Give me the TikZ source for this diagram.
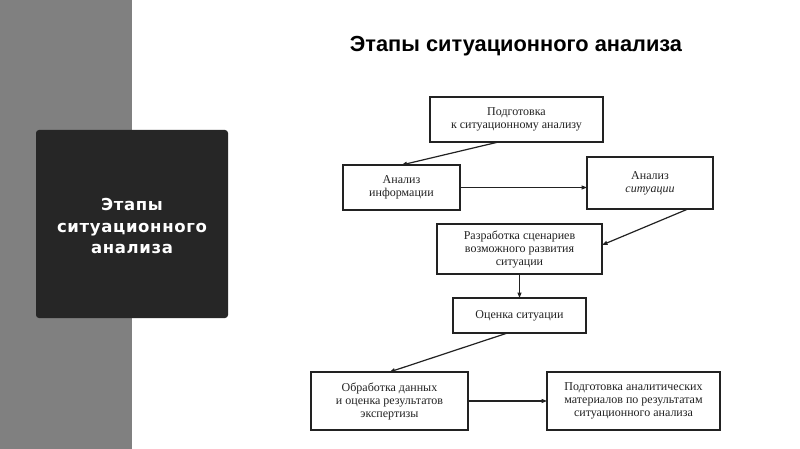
\documentclass[tikz,border=0pt]{standalone}
\usepackage{fontspec}
\setmainfont{Liberation Serif}
\newfontfamily\headfont{Liberation Sans}
\newfontfamily\sidefont[LetterSpace=4]{DejaVu Sans}
\usepackage{xcolor}
\usetikzlibrary{arrows.meta, positioning}
\definecolor{sidegray}{HTML}{808080}
\definecolor{darkpanel}{HTML}{262626}
\definecolor{ink}{HTML}{222222}

\begin{document}
\begin{tikzpicture}[
x=1pt, y=-1pt,
node distance = 24pt and 79pt,
stage/.style = {draw=ink, line width=1.4pt, fill=white, align=center,
                inner sep=2pt, outer sep=0pt, text=ink,
                font=\fontsize{12}{13}\selectfont},
every edge/.style = {draw=ink, line width=1.2pt,
                     -{Triangle[length=5.5pt, width=4pt]}},
                        ]
\useasboundingbox (0,0) rectangle (800,449);
\fill[white] (0,0) rectangle (800,449);
\fill[sidegray] (0,0) rectangle (132,449);
% side panel
\node (panel) [fill=darkpanel, rounded corners=3pt, minimum width=192pt,
               minimum height=188pt] at (132,224) {};
\node (paneltext) [align=center, text=white,
                   font=\sidefont\bfseries\fontsize{16.5}{21.5}\selectfont]
      at (132,226) {Этапы\\ситуационного\\анализа};
% title
\node (title) at (516,46)
      {\headfont\bfseries\fontsize{21.8}{24}\selectfont Этапы ситуационного анализа};
% stages
\node (s1) [stage, minimum width=173pt, minimum height=45pt] at (516.5,119.5)
      {Подготовка\\к ситуационному анализу};
\node (s2) [stage, minimum width=117pt, minimum height=45pt] at (401.5,187.5)
      {Анализ\\информации};
\node (s3) [stage, minimum width=126pt, minimum height=52pt] at (650,183)
      {Анализ\\\textit{ситуации}};
\node (s4) [stage, minimum width=165pt, minimum height=50pt] at (519.5,249)
      {Разработка сценариев\\возможного развития\\ситуации};
\node (s5) [stage, minimum width=133pt, minimum height=35pt, below=of s4]
      {Оценка ситуации};
\node (s6) [stage, minimum width=157pt, minimum height=58pt] at (389.5,401)
      {Обработка данных\\и оценка результатов\\экспертизы};
\node (s7) [stage, minimum width=173pt, minimum height=58pt, right=of s6]
      {Подготовка аналитических\\материалов по результатам\\ситуационного анализа};
\draw   ([xshift=-18pt]s1.south) edge (s2.north)
        (s2.east) edge (s2.east -| s3.west)
        ([xshift=38pt]s3.south) edge ([yshift=4pt]s4.east)
        (s4) edge (s5)
        ([xshift=-12pt]s5.south) edge (s6.north)
        (s6) edge (s7);
\end{tikzpicture}
\end{document}
